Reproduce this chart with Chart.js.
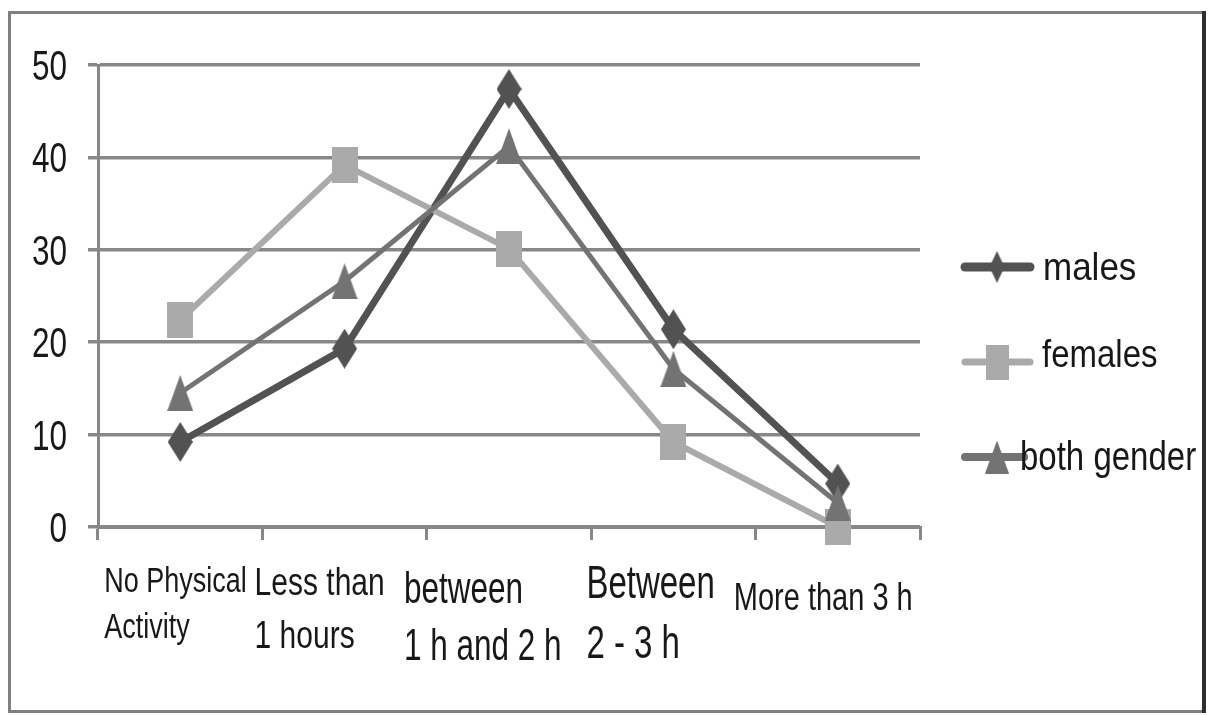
<!DOCTYPE html>
<html>
<head>
<meta charset="utf-8">
<script src="https://cdn.jsdelivr.net/npm/chart.js@4.4.1/dist/chart.umd.min.js"></script>
<style>
  html, body { margin: 0; padding: 0; background: #ffffff; }
  #wrap { width: 1209px; height: 715px; position: relative; }
</style>
</head>
<body>
<div id="wrap"><canvas id="chart" width="1209" height="715"></canvas></div>
<script>
// Daily physical activity: share of respondents (%) per category
const categories = ['No Physical Activity', 'Less than 1 hours', 'between 1 h and 2 h', 'Between 2 - 3 h', 'More than 3 h'];
const categoryLines = [['No Physical', 'Activity'], ['Less than', '1 hours'], ['between', '1 h and 2 h'], ['Between', '2 - 3 h'], ['More than 3 h']];
const males = [9.2, 19.3, 47.4, 21.4, 4.7];
const females = [22.4, 39.2, 30.1, 9.2, 0];
const bothGender = [14.5, 26.6, 41.2, 17.1, 2.6];
const seriesNames = ['males', 'females', 'both gender'];
const yMin = 0, yMax = 50, yStep = 10;

// Colours and text styling
const COLORS = { males: '#525252', females: '#aaaaaa', both: '#737373', grid: '#878787', text: '#181818' };
const FONT = '"Liberation Sans", Arial, Helvetica, sans-serif';

// Per-label text layout for the category axis: [size, vertical stretch, dx from category centre, baselines below axis]
const xLabelStyle = [
  { size: 27, stretch: 1.3, dx: -76, base: [65, 111] },
  { size: 30, stretch: 1.28, dx: -90, base: [68, 121] },
  { size: 31.5, stretch: 1.38, dx: -105, base: [76, 133] },
  { size: 33, stretch: 1.4, dx: -87, base: [71, 131] },
  { size: 29, stretch: 1.35, dx: -104, base: [83] }
];

// Marker glyphs (taller than wide)
function makeMarker(kind, w, h, color) {
  const c = document.createElement('canvas');
  c.width = w; c.height = h;
  const g = c.getContext('2d');
  g.fillStyle = color;
  g.beginPath();
  if (kind === 'diamond') {
    g.moveTo(w / 2, 0); g.lineTo(w, h / 2); g.lineTo(w / 2, h); g.lineTo(0, h / 2);
  } else if (kind === 'square') {
    g.rect(0, 0, w, h);
  } else {
    g.moveTo(w / 2, 0); g.lineTo(w, h); g.lineTo(0, h);
  }
  g.closePath();
  g.fill();
  return c;
}
const diamondMark = makeMarker('diamond', 25, 40, COLORS.males);
const squareMark = makeMarker('square', 26, 36, COLORS.females);
const triangleMark = makeMarker('triangle', 26, 36, COLORS.both);
const legendMarks = [
  makeMarker('diamond', 15, 32, COLORS.males),
  makeMarker('square', 23, 35, COLORS.females),
  makeMarker('triangle', 24, 33, COLORS.both)
];

function stretchedText(ctx, text, x, baseline, size, stretch, align) {
  ctx.save();
  ctx.font = size + 'px ' + FONT;
  ctx.fillStyle = COLORS.text;
  ctx.textAlign = align || 'left';
  ctx.textBaseline = 'alphabetic';
  ctx.translate(x, baseline);
  ctx.scale(1, stretch);
  ctx.fillText(text, 0, 0);
  ctx.restore();
}

// Frame around the whole figure
const framePlugin = {
  id: 'frame',
  beforeDraw(chart) {
    const ctx = chart.ctx;
    ctx.save();
    ctx.fillStyle = '#ffffff';
    ctx.fillRect(0, 0, chart.width, chart.height);
    ctx.strokeStyle = '#808080';
    ctx.lineWidth = 3;
    ctx.strokeRect(9.5, 12.5, 1194, 699);
    ctx.strokeStyle = '#2e2e2e';
    ctx.lineWidth = 4;
    ctx.beginPath();
    ctx.moveTo(1204, 11); ctx.lineTo(1204, 713);
    ctx.stroke();
    ctx.restore();
  }
};

// Axis labels and legend
const textPlugin = {
  id: 'texts',
  afterDraw(chart) {
    const ctx = chart.ctx;
    const xs = chart.scales.x, ys = chart.scales.y;
    // value axis labels
    ys.ticks.forEach(t => {
      const y = ys.getPixelForValue(t.value);
      stretchedText(ctx, String(t.value), 67, y + 15, 31.5, 1.33, 'right');
    });
    // category labels
    categoryLines.forEach((lines, i) => {
      const st = xLabelStyle[i];
      const cx = xs.getPixelForValue(i);
      lines.forEach((ln, j) => {
        stretchedText(ctx, ln, cx + st.dx, xs.top + st.base[j], st.size, st.stretch, 'left');
      });
    });
    // legend
    const legendRows = [
      { y: 267, color: COLORS.males, width: 9, x1: 965, x2: 1030, tx: 1043, tb: 280, size: 35, stretch: 1.12 },
      { y: 362, color: COLORS.females, width: 7, x1: 965, x2: 1030, tx: 1042, tb: 367, size: 33, stretch: 1.15 },
      { y: 457, color: COLORS.both, width: 8, x1: 965, x2: 1024, tx: 1020, tb: 470, size: 33, stretch: 1.22 }
    ];
    legendRows.forEach((r, i) => {
      ctx.save();
      ctx.strokeStyle = r.color;
      ctx.lineWidth = r.width;
      ctx.lineCap = 'round';
      ctx.beginPath();
      ctx.moveTo(r.x1, r.y); ctx.lineTo(r.x2, r.y);
      ctx.stroke();
      const m = legendMarks[i];
      ctx.drawImage(m, 997 - m.width / 2, r.y - m.height / 2);
      ctx.restore();
      stretchedText(ctx, seriesNames[i], r.tx, r.tb, r.size, r.stretch, 'left');
    });
  }
};

new Chart(document.getElementById('chart'), {
  type: 'line',
  data: {
    labels: categories,
    datasets: [
      { label: seriesNames[0], data: males, borderColor: COLORS.males, backgroundColor: COLORS.males,
        borderWidth: 7, pointStyle: diamondMark, clip: false, order: 3, tension: 0 },
      { label: seriesNames[1], data: females, borderColor: COLORS.females, backgroundColor: COLORS.females,
        borderWidth: 6, pointStyle: squareMark, clip: false, order: 2, tension: 0 },
      { label: seriesNames[2], data: bothGender, borderColor: COLORS.both, backgroundColor: COLORS.both,
        borderWidth: 5, pointStyle: triangleMark, clip: false, order: 1, tension: 0 }
    ]
  },
  options: {
    responsive: false,
    devicePixelRatio: 1,
    animation: false,
    layout: { padding: { top: 65, right: 289, left: 0, bottom: 0 } },
    plugins: { legend: { display: false }, tooltip: { enabled: false } },
    scales: {
      x: {
        type: 'category',
        offset: true,
        grid: { offset: true, drawOnChartArea: false, drawTicks: true, tickLength: 13, color: COLORS.grid, lineWidth: 3 },
        border: { display: true, color: COLORS.grid, width: 3 },
        ticks: { display: false },
        afterFit(s) { s.height = 188; }
      },
      y: {
        min: yMin, max: yMax,
        ticks: { stepSize: yStep, display: false },
        grid: { drawTicks: true, tickLength: 10, color: COLORS.grid, lineWidth: 3.5 },
        border: { display: true, color: COLORS.grid, width: 3 },
        afterFit(s) { s.width = 98; }
      }
    }
  },
  plugins: [framePlugin, textPlugin]
});
</script>
</body>
</html>
